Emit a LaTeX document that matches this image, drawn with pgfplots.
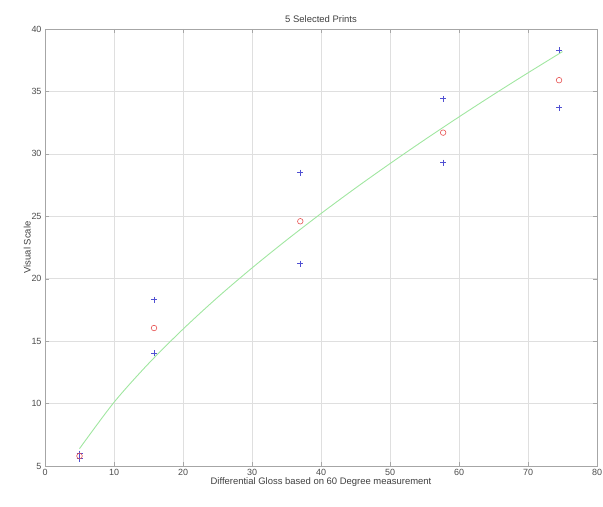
\documentclass[border=0pt]{standalone}
\usepackage{fontspec}
\setmainfont{Liberation Sans}
\usepackage{pgfplots}
\pgfplotsset{compat=1.18}
\definecolor{mblue}{RGB}{80,80,210}
\definecolor{mred}{RGB}{230,80,80}
\definecolor{mgreen}{RGB}{160,230,160}
\begin{document}
\begin{tikzpicture}[x=1bp,y=1bp]
\begin{axis}[
  name=ax,
  scale only axis,
  width=552bp, height=437bp,
  xmin=0, xmax=80, ymin=5, ymax=40,
  xtick={0,10,...,80}, ytick={5,10,...,40},
  tick align=inside,
  major tick length=4bp,
  grid=major,
  grid style={gray!25, line width=0.5bp},
  axis line style={gray!70, line width=0.8bp},
  tick style={gray!70},
  every tick label/.append style={font=\fontsize{9}{10}\selectfont, text=black!70},
  /pgf/number format/assume math mode=true,
  title={5 Selected Prints},
  title style={font=\fontsize{9.5}{11}\selectfont, text=black!75, yshift=-3bp},
  xlabel={Differential Gloss based on 60 Degree measurement},
  ylabel={Visual Scale},
  xlabel style={font=\fontsize{9.5}{11}\selectfont, text=black!75, yshift=5bp},
  ylabel style={font=\fontsize{9.5}{11}\selectfont, text=black!75, yshift=-6bp},
  clip=false,
]
\addplot[mgreen, line width=0.9bp, smooth] coordinates {
(5,6.39) (10,10.10) (15,13.20) (20,15.96) (25,18.50) (30,20.86) (35,23.09)
(40,25.22) (45,27.26) (50,29.22) (55,31.12) (60,32.96) (65,34.75) (70,36.49) (75,38.19)};
\addplot[only marks, mark=+, mark size=3bp, color=mblue, mark options={draw=mblue, line width=1bp}] coordinates {
(5,5.6) (5,6.0) (15.8,18.3) (15.8,14.05) (37,28.5) (37,21.2) (57.7,34.4) (57.7,29.3) (74.5,38.3) (74.5,33.7)};
\addplot[only marks, mark=o, mark size=2.8bp, color=mred, mark options={draw=mred, line width=0.6bp}] coordinates {
(5,5.8) (15.8,16.05) (37,24.6) (57.7,31.7) (74.5,35.9)};
\end{axis}
\pgfresetboundingbox
\path ([xshift=-45bp,yshift=-40bp]ax.south west) rectangle ([xshift=6bp,yshift=29bp]ax.north east);
\end{tikzpicture}
\end{document}
